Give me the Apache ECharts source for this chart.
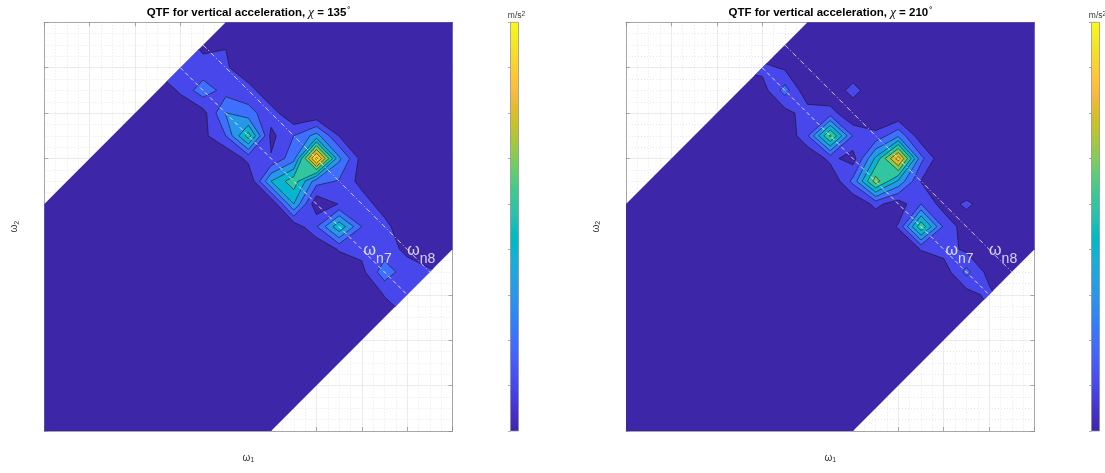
<!DOCTYPE html>
<html>
<head>
<meta charset="utf-8">
<title>QTF for vertical acceleration</title>
<script src="https://cdn.jsdelivr.net/npm/echarts@6/dist/echarts.min.js"></script>
<style>
html, body { margin: 0; padding: 0; background: #ffffff; }
#chart { width: 1105px; height: 473px; }
</style>
</head>
<body>
<div id="chart"></div>
<script>
// Frequency samples of the QTF grid (axis units)
const omega1 = [0, 0.5, 1, 1.5, 2, 2.5, 3, 3.5, 4, 4.5, 5, 5.5, 6, 6.5, 7, 7.5, 8, 8.5, 9];
const omega2 = [0, 0.5, 1, 1.5, 2, 2.5, 3, 3.5, 4, 4.5, 5, 5.5, 6, 6.5, 7, 7.5, 8, 8.5, 9];

// |QTF| for heading 135 deg; one row per omega2, from omega2 = 9 (top) down to omega2 = 0
const qtf135 = [
  [0, 0, 0, 0, 0, 0, 0, 0, 0, 0, 0, 0, 0, 0, 0, 0, 0, 0, 0],
  [0, 0, 0, 0, 0, 0, 1.4, 0.8, 0.95, 0, 0, 0, 0, 0, 0, 0, 0, 0, 0],
  [0, 0, 0, 0, 0, 1.4, 1.4, 1.3, 1.2, 0, 0, 0, 0, 0, 0, 0, 0, 0, 0],
  [0, 0, 0, 0, 0, 0, 1.2, 2.6, 1.6, 1.5, 0, 0, 0, 0, 0, 0, 0, 0, 0],
  [0, 0, 0, 0, 0, 0, 0, 0.6, 3.05, 2.3, 1.5, 0, 0, 0, 0, 0, 0, 0, 0],
  [0, 0, 0, 0, 0, 0, 0, 0.7, 2.0, 5.5, 0.7, 2.0, 3.4, 0.95, 0, 0, 0, 0, 0],
  [0, 0, 0, 0, 0, 0, 0, 0, 0, 1.3, 1.1, 2.6, 9.4, 3.2, 0.6, 0, 0, 0, 0],
  [0, 0, 0, 0, 0, 0, 0, 0, 0, 0, 4.0, 5.6, 2.4, 1.9, 0.6, 0, 0, 0, 0],
  [0, 0, 0, 0, 0, 0, 0, 0, 0, 0, 0, 4.0, 0.2, 1.05, 1.6, 0.4, 0, 0, 0],
  [0, 0, 0, 0, 0, 0, 0, 0, 0, 0, 0, 0.3, 1.9, 4.8, 2.0, 1.4, 0, 0, 0],
  [0, 0, 0, 0, 0, 0, 0, 0, 0, 0, 0, 0, 0, 1.1, 1.3, 1.4, 0.8, 0, 0],
  [0, 0, 0, 0, 0, 0, 0, 0, 0, 0, 0, 0, 0, 0, 0.7, 2.6, 1.4, 1.2, 1.0],
  [0, 0, 0, 0, 0, 0, 0, 0, 0, 0, 0, 0, 0, 0, 0, 1.05, 1.3, 1.0, 0],
  [0, 0, 0, 0, 0, 0, 0, 0, 0, 0, 0, 0, 0, 0, 0, 0.5, 1.0, 0, 0],
  [0, 0, 0, 0, 0, 0, 0, 0, 0, 0, 0, 0, 0, 0, 0, 0, 0, 0, 0],
  [0, 0, 0, 0, 0, 0, 0, 0, 0, 0, 0, 0, 0, 0, 0, 0, 0, 0, 0],
  [0, 0, 0, 0, 0, 0, 0, 0, 0, 0, 0, 0, 0, 0, 0, 0, 0, 0, 0],
  [0, 0, 0, 0, 0, 0, 0, 0, 0, 0, 0, 0, 0, 0, 0, 0, 0, 0, 0],
  [0, 0, 0, 0, 0, 0, 0, 0, 0, 0, 0, 0, 0, 0, 0, 0, 0, 0, 0]
];

// |QTF| for heading 210 deg; same layout
const qtf210 = [
  [0, 0, 0, 0, 0, 0, 0, 0, 0, 0, 0, 0, 0, 0, 0, 0, 0, 0, 0],
  [0, 0, 0, 0, 0, 0, 0, 0, 0, 0, 0, 0, 0, 0, 0, 0, 0, 0, 0],
  [0, 0, 0, 0, 0, 1.3, 1.3, 0.85, 0, 0, 0, 0, 0, 0, 0, 0, 0, 0, 0],
  [0, 0, 0, 0, 0, 0, 0.5, 2.4, 0.2, 0, 1.5, 0, 0, 0, 0, 0, 0, 0, 0],
  [0, 0, 0, 0, 0, 0, 0, 0.6, 1.5, 1.45, 0, 0, 0, 0, 0, 0, 0, 0, 0],
  [0, 0, 0, 0, 0, 0, 0, 0, 1.9, 6.2, 1.9, 1.3, 2.8, 0.3, 0, 0, 0, 0, 0],
  [0, 0, 0, 0, 0, 0, 0, 0, 0, 1.3, 0.5, 4.2, 8.5, 2.3, 0, 0, 0, 0, 0],
  [0, 0, 0, 0, 0, 0, 0, 0, 0, 0, 2.3, 6.5, 3.8, 0.95, 0, 0, 0, 0, 0],
  [0, 0, 0, 0, 0, 0, 0, 0, 0, 0, 0, 1.3, 0.4, 2.0, 0.5, 1.2, 0.5, 0, 0],
  [0, 0, 0, 0, 0, 0, 0, 0, 0, 0, 0, 0, 1.1, 5.8, 1.8, 0.4, 0, 0, 0],
  [0, 0, 0, 0, 0, 0, 0, 0, 0, 0, 0, 0, 0, 1.05, 1.4, 0.8, 0, 0, 0],
  [0, 0, 0, 0, 0, 0, 0, 0, 0, 0, 0, 0, 0, 0, 0.4, 2.3, 0.6, 0, 0],
  [0, 0, 0, 0, 0, 0, 0, 0, 0, 0, 0, 0, 0, 0, 0, 0.5, 1.3, 0, 0],
  [0, 0, 0, 0, 0, 0, 0, 0, 0, 0, 0, 0, 0, 0, 0, 0, 0.8, 0, 0],
  [0, 0, 0, 0, 0, 0, 0, 0, 0, 0, 0, 0, 0, 0, 0, 0, 0, 0, 0],
  [0, 0, 0, 0, 0, 0, 0, 0, 0, 0, 0, 0, 0, 0, 0, 0, 0, 0, 0],
  [0, 0, 0, 0, 0, 0, 0, 0, 0, 0, 0, 0, 0, 0, 0, 0, 0, 0, 0],
  [0, 0, 0, 0, 0, 0, 0, 0, 0, 0, 0, 0, 0, 0, 0, 0, 0, 0, 0],
  [0, 0, 0, 0, 0, 0, 0, 0, 0, 0, 0, 0, 0, 0, 0, 0, 0, 0, 0]
];

const headings = ['135', '210'];
const contourLevels = [1, 2, 3, 4, 5, 6, 7, 8, 9];
const colorLimits = [0, 9];
const axisLimits = [0, 9];
const bandHalfWidth = 5;                  // QTF defined where |omega2 - omega1| <= 5
const wn7Line = [[3, 8], [8, 3]];         // omega1 + omega2 = omega_n7
const wn8Line = [[3.5, 8.5], [8.5, 3.5]]; // omega1 + omega2 = omega_n8
const wn7TextAt = [7.04, 3.63];
const wn8TextAt = [8.0, 3.63];

// parula colormap (64 entries)
const PARULA = [
[0.2422,0.1504,0.6603],[0.2504,0.1650,0.7076],[0.2578,0.1818,0.7511],[0.2647,0.1978,0.7952],
[0.2706,0.2147,0.8364],[0.2751,0.2342,0.8710],[0.2783,0.2559,0.8991],[0.2803,0.2782,0.9221],
[0.2813,0.3006,0.9414],[0.2810,0.3228,0.9579],[0.2795,0.3447,0.9717],[0.2760,0.3667,0.9829],
[0.2699,0.3892,0.9906],[0.2602,0.4123,0.9952],[0.2440,0.4358,0.9988],[0.2206,0.4603,0.9973],
[0.1963,0.4847,0.9892],[0.1834,0.5074,0.9798],[0.1786,0.5289,0.9682],[0.1764,0.5499,0.9520],
[0.1687,0.5703,0.9359],[0.1540,0.5902,0.9218],[0.1460,0.6091,0.9079],[0.1380,0.6276,0.8973],
[0.1248,0.6459,0.8883],[0.1113,0.6635,0.8763],[0.0952,0.6798,0.8598],[0.0689,0.6948,0.8394],
[0.0297,0.7082,0.8163],[0.0036,0.7203,0.7917],[0.0067,0.7312,0.7660],[0.0433,0.7411,0.7394],
[0.0964,0.7500,0.7120],[0.1408,0.7584,0.6842],[0.1717,0.7670,0.6554],[0.1938,0.7758,0.6251],
[0.2161,0.7843,0.5923],[0.2470,0.7918,0.5567],[0.2906,0.7973,0.5188],[0.3406,0.8008,0.4789],
[0.3909,0.8029,0.4354],[0.4456,0.8024,0.3909],[0.5044,0.7993,0.3480],[0.5616,0.7942,0.3045],
[0.6174,0.7876,0.2612],[0.6720,0.7793,0.2227],[0.7242,0.7698,0.1910],[0.7738,0.7598,0.1646],
[0.8203,0.7498,0.1535],[0.8634,0.7406,0.1596],[0.9035,0.7330,0.1774],[0.9393,0.7288,0.2100],
[0.9728,0.7298,0.2394],[0.9956,0.7434,0.2371],[0.9970,0.7659,0.2199],[0.9952,0.7893,0.2028],
[0.9892,0.8136,0.1885],[0.9786,0.8386,0.1766],[0.9676,0.8639,0.1643],[0.9610,0.8890,0.1537],
[0.9597,0.9135,0.1423],[0.9628,0.9373,0.1265],[0.9691,0.9606,0.1064],[0.9769,0.9839,0.0805]
];
const rgb = c => 'rgb(' + c.map(v => Math.round(v * 255)).join(',') + ')';
function levelColor(v) {
  const t = (v - colorLimits[0]) / (colorLimits[1] - colorLimits[0]);
  const k = Math.max(0, Math.min(PARULA.length - 1, Math.floor(t * PARULA.length)));
  return rgb(PARULA[k]);
}

// region where the transfer function is defined (convex, counter-clockwise)
const lo = axisLimits[0], hi = axisLimits[1], e = bandHalfWidth;
const bandPolygon = [[lo, lo], [lo + e, lo], [hi, hi - e], [hi, hi], [hi - e, hi], [lo, lo + e]];

function sideOf(a, b, p) { return (b[0] - a[0]) * (p[1] - a[1]) - (b[1] - a[1]) * (p[0] - a[0]); }
function lerp(p, q, t) { return [p[0] + t * (q[0] - p[0]), p[1] + t * (q[1] - p[1])]; }

function clipPolygon(poly, clip) {
  let out = poly;
  for (let k = 0; k < clip.length && out.length; k++) {
    const a = clip[k], b = clip[(k + 1) % clip.length];
    const inp = out; out = [];
    for (let m = 0; m < inp.length; m++) {
      const P = inp[m], Q = inp[(m + 1) % inp.length];
      const sp = sideOf(a, b, P), sq = sideOf(a, b, Q);
      if (sp >= 0) out.push(P);
      if ((sp >= 0) !== (sq >= 0)) out.push(lerp(P, Q, sp / (sp - sq)));
    }
  }
  return out;
}
function clipSegment(seg, clip) {
  let t0 = 0, t1 = 1;
  const P = seg[0], Q = seg[1];
  for (let k = 0; k < clip.length; k++) {
    const a = clip[k], b = clip[(k + 1) % clip.length];
    const sp = sideOf(a, b, P), sq = sideOf(a, b, Q);
    if (sp < 0 && sq < 0) return null;
    if (sp < 0) t0 = Math.max(t0, sp / (sp - sq));
    else if (sq < 0) t1 = Math.min(t1, sp / (sp - sq));
  }
  return t0 < t1 ? [lerp(P, Q, t0), lerp(P, Q, t1)] : null;
}

// marching squares: filled pieces per level plus the iso-lines;
// saddle cells are resolved with the cell-centre average
function buildContours(grid) {
  const ny = omega2.length, nx = omega1.length;
  const at = (i, j) => grid[ny - 1 - j][i];
  const fills = contourLevels.map(() => []);
  const segs = [];
  for (let j = 0; j < ny - 1; j++) {
    for (let i = 0; i < nx - 1; i++) {
      const P = [[omega1[i], omega2[j]], [omega1[i + 1], omega2[j]], [omega1[i + 1], omega2[j + 1]], [omega1[i], omega2[j + 1]]];
      const V = [at(i, j), at(i + 1, j), at(i + 1, j + 1), at(i, j + 1)];
      contourLevels.forEach((L, li) => {
        const inside = V.map(v => v >= L);
        const cross = (a, b) => lerp(P[a], P[b], (L - V[a]) / (V[b] - V[a]));
        let pieces;
        const saddle = inside[0] === inside[2] && inside[1] === inside[3] && inside[0] !== inside[1];
        if (saddle && (V[0] + V[1] + V[2] + V[3]) / 4 < L) {
          pieces = (inside[0] ? [0, 2] : [1, 3]).map(c => {
            const pr = (c + 3) % 4, nx2 = (c + 1) % 4;
            return [{ p: cross(pr, c), c: true }, { p: P[c], c: false }, { p: cross(c, nx2), c: true }];
          });
        } else {
          const poly = [];
          for (let k = 0; k < 4; k++) {
            const n = (k + 1) % 4;
            if (inside[k]) poly.push({ p: P[k], c: false });
            if (inside[k] !== inside[n]) poly.push({ p: cross(k, n), c: true });
          }
          pieces = poly.length >= 3 ? [poly] : [];
        }
        pieces.forEach(poly => {
          const clipped = clipPolygon(poly.map(o => o.p), bandPolygon);
          if (clipped.length >= 3) fills[li].push(clipped);
          for (let k = 0; k < poly.length; k++) {
            const A = poly[k], B = poly[(k + 1) % poly.length];
            if (A.c && B.c) {
              const s = clipSegment([A.p, B.p], bandPolygon);
              if (s) segs.push(s);
            }
          }
        });
      });
    }
  }
  return { fills, segs };
}

const contours = [buildContours(qtf135), buildContours(qtf210)];

function contourRenderer(geom) {
  return function (params, api) {
    const toPath = (polys, close) => polys.map(poly => poly.map((p, k) => {
      const c = api.coord(p);
      return (k ? 'L' : 'M') + c[0].toFixed(2) + ' ' + c[1].toFixed(2);
    }).join('') + (close ? 'Z' : '')).join(' ');
    const children = [{
      type: 'path', shape: { pathData: toPath([bandPolygon], true) },
      style: { fill: levelColor(colorLimits[0]) }
    }];
    geom.fills.forEach((polys, k) => {
      if (polys.length) children.push({
        type: 'path', shape: { pathData: toPath(polys, true) },
        style: { fill: levelColor(contourLevels[k]) }
      });
    });
    children.push({
      type: 'path', shape: { pathData: toPath(geom.segs, false) },
      style: { fill: 'none', stroke: '#101010', lineWidth: 0.55 }
    });
    return { type: 'group', children };
  };
}

function colorbarRenderer(params, api) {
  const p0 = api.coord([0, colorLimits[0]]);
  const p1 = api.coord([1, colorLimits[1]]);
  const stops = PARULA.map((c, k) => ({ offset: k / (PARULA.length - 1), color: rgb(c) }));
  return {
    type: 'rect',
    shape: { x: p0[0], y: p1[1], width: p1[0] - p0[0], height: p0[1] - p1[1] },
    style: { fill: new echarts.graphic.LinearGradient(0, 1, 0, 0, stops), stroke: '#8a8a8a', lineWidth: 0.7 }
  };
}

const FONT = 'Liberation Sans, Arial, Helvetica, sans-serif';
const AXIS_GREY = '#8a8a8a';
const plotBoxes = [
  { left: 44.3, top: 22.3, width: 408.2, height: 408.7 },
  { left: 626, top: 22.3, width: 408.5, height: 408.7 }
];
const barBoxes = [
  { left: 510.5, top: 22.3, width: 8, height: 408.7 },
  { left: 1091.5, top: 22.3, width: 8, height: 408.7 }
];

const xAxes = [], yAxes = [], grids = [], series = [];

function frameAxis(gridIndex, position, extra) {
  return Object.assign({
    type: 'value', gridIndex, position, min: axisLimits[0], max: axisLimits[1], interval: 1,
    axisLine: { show: true, onZero: false, lineStyle: { color: AXIS_GREY, width: 0.7 } },
    axisTick: { show: true, inside: true, length: 4, lineStyle: { color: AXIS_GREY, width: 0.7 } },
    axisLabel: { show: false },
    splitLine: { show: false }
  }, extra || {});
}
const gridLines = {
  splitLine: { show: true, lineStyle: { color: '#e2e2e2', width: 0.7 } },
  minorTick: { show: false, splitNumber: 4 },
  minorSplitLine: { show: true, lineStyle: { color: '#d8d8d8', width: 0.6, type: [1, 2] } }
};
const omegaRich = {
  w: { fontSize: 10, color: '#333', fontFamily: FONT },
  s: { fontSize: 7, color: '#333', fontFamily: FONT, verticalAlign: 'bottom', padding: [5, 0, 0, 0] }
};

plotBoxes.forEach((box, p) => {
  grids.push(Object.assign({ containLabel: false, outerBoundsMode: 'none' }, box));
  const xb = xAxes.length, yb = yAxes.length;
  xAxes.push(frameAxis(p, 'bottom', Object.assign({
    name: '{w|ω}{s|1}', nameLocation: 'middle', nameGap: 21,
    nameTextStyle: { rich: omegaRich }
  }, gridLines)));
  xAxes.push(frameAxis(p, 'top', {
    name: 'QTF for vertical acceleration, {c|χ} = ' + headings[p] + '{d|°}',
    nameLocation: 'middle', nameGap: 3,
    nameTextStyle: {
      fontSize: 11.5, fontWeight: 'bold', color: '#000', fontFamily: FONT,
      rich: {
        c: { fontSize: 13, fontStyle: 'italic', fontWeight: 'normal', color: '#000', fontFamily: 'Liberation Serif, DejaVu Serif, serif' },
        d: { fontSize: 7, fontWeight: 'bold', color: '#000', fontFamily: FONT, verticalAlign: 'top', padding: [0, 0, 2, 1] }
      }
    }
  }));
  yAxes.push(frameAxis(p, 'left', Object.assign({
    name: '{w|ω}{s|2}', nameLocation: 'middle', nameGap: 24, nameRotate: 90,
    nameTextStyle: { rich: omegaRich }
  }, gridLines)));
  yAxes.push(frameAxis(p, 'right'));

  series.push({
    type: 'custom', name: 'QTF ' + headings[p], xAxisIndex: xb, yAxisIndex: yb,
    data: [[0, 0]], clip: false, silent: true, z: 2,
    renderItem: contourRenderer(contours[p])
  });
  series.push({
    type: 'line', xAxisIndex: xb, yAxisIndex: yb, data: wn7Line, symbol: 'none', silent: true, z: 4,
    lineStyle: { color: '#ffffff', width: 0.8, type: [4, 3] }
  });
  series.push({
    type: 'line', xAxisIndex: xb, yAxisIndex: yb, data: wn8Line, symbol: 'none', silent: true, z: 4,
    lineStyle: { color: '#f2f2f2', width: 0.8, type: [5, 2.5, 1, 2.5] }
  });
  series.push({
    type: 'scatter', xAxisIndex: xb, yAxisIndex: yb, symbolSize: 1, silent: true, z: 5,
    itemStyle: { color: 'rgba(0,0,0,0)' },
    data: [{ value: wn7TextAt, name: 'n7' }, { value: wn8TextAt, name: 'n8' }],
    label: {
      show: true, position: 'inside', align: 'left', verticalAlign: 'bottom',
      formatter: q => '{w|ω}{s|' + q.name + '}',
      rich: {
        w: { fontSize: 16, color: '#ffffff', fontFamily: FONT, verticalAlign: 'top' },
        s: { fontSize: 14, color: '#ffffff', fontFamily: FONT, verticalAlign: 'bottom', padding: [10, 0, 0, 0] }
      }
    }
  });
});

barBoxes.forEach((box, b) => {
  grids.push(Object.assign({ containLabel: false, outerBoundsMode: 'none' }, box));
  const gi = grids.length - 1;
  const xb = xAxes.length, yb = yAxes.length;
  xAxes.push({ type: 'value', gridIndex: gi, min: 0, max: 1, show: false });
  yAxes.push({
    type: 'value', gridIndex: gi, position: 'right', min: colorLimits[0], max: colorLimits[1], interval: 1,
    axisLine: { show: false },
    axisTick: { show: true, inside: true, length: 2.5, lineStyle: { color: AXIS_GREY, width: 0.7 } },
    axisLabel: { show: false }, splitLine: { show: false },
    name: 'm/s{e|2}', nameLocation: 'end', nameGap: 1,
    nameTextStyle: {
      fontSize: 8.5, color: '#333', fontFamily: FONT, align: 'center', padding: [0, 0, 0, 12],
      rich: { e: { fontSize: 6.5, color: '#333', fontFamily: FONT, verticalAlign: 'top', padding: [0, 0, 4, 0] } }
    }
  });
  series.push({
    type: 'custom', name: 'colorbar ' + headings[b], xAxisIndex: xb, yAxisIndex: yb,
    data: [[0, 0]], clip: false, silent: true, renderItem: colorbarRenderer
  });
});

const chart = echarts.init(document.getElementById('chart'), null, { renderer: 'canvas' });
chart.setOption({
  backgroundColor: '#ffffff',
  animation: false,
  textStyle: { fontFamily: FONT },
  grid: grids,
  xAxis: xAxes,
  yAxis: yAxes,
  series
});
</script>
</body>
</html>
